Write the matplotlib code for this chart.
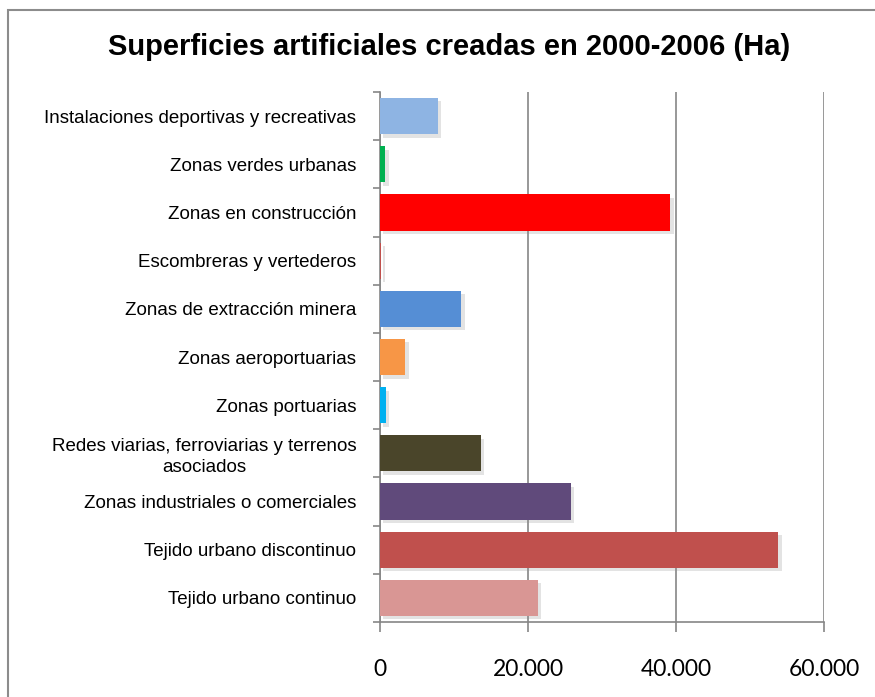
import matplotlib.pyplot as plt
import matplotlib.patheffects as pe
from matplotlib.patches import Rectangle
from matplotlib.ticker import FuncFormatter

# categorias (de arriba a abajo)
categorias = [
    "Instalaciones deportivas y recreativas",
    "Zonas verdes urbanas",
    "Zonas en construcción",
    "Escombreras y vertederos",
    "Zonas de extracción minera",
    "Zonas aeroportuarias",
    "Zonas portuarias",
    "Redes viarias, ferroviarias y terrenos\nasociados",
    "Zonas industriales o comerciales",
    "Tejido urbano discontinuo",
    "Tejido urbano continuo",
]
hectareas = [7800, 700, 39200, 150, 10950, 3400, 800, 13650, 25800, 53800, 21350]
colores = ["#8EB4E3", "#00B050", "#FF0000", "#C0504D", "#558ED5", "#F79646",
           "#00B0F0", "#4A452A", "#604A7B", "#C0504D", "#D99694"]
xticks = [0, 20000, 40000, 60000]

plt.rcParams['font.family'] = ['Liberation Sans', 'DejaVu Sans']

fig = plt.figure(figsize=(8.75, 6.97), dpi=100)
ax = fig.add_axes([380 / 875, 1 - 622 / 697, 444 / 875, 530 / 697])

n = len(categorias)
pos = list(range(n))[::-1]  # primera categoria arriba
sombra = [pe.SimplePatchShadow(offset=(2.5, -2.5), shadow_rgbFace='#909090', alpha=0.25), pe.Normal()]
bars = ax.barh(pos, hectareas, height=0.75, color=colores, zorder=3)
for b in bars:
    b.set_path_effects(sombra)

ax.set_xlim(0, 60000)
ax.set_ylim(-0.5, n - 0.5)
ax.set_xticks(xticks)
ax.xaxis.set_major_formatter(FuncFormatter(lambda v, p: f"{int(v):,}".replace(",", ".")))
ax.grid(axis='x', color='#868686', linewidth=1.2, zorder=0)
ax.set_axisbelow(True)

ax.set_yticks(pos)
ax.set_yticklabels(categorias, fontsize=13.5, multialignment='center', linespacing=1.25)
ax.set_yticks([k - 0.5 for k in range(n + 1)], minor=True)
ax.tick_params(axis='y', which='major', length=0, pad=17)
ax.tick_params(axis='y', which='minor', length=5, color='#868686', width=1.2)
ax.tick_params(axis='x', length=7, color='#868686', width=1.2, pad=20, labelsize=16.5)
for lab in ax.get_xticklabels():
    lab.set_fontfamily(['Lato', 'DejaVu Sans'])

for s in ['top', 'right']:
    ax.spines[s].set_visible(False)
for s in ['left', 'bottom']:
    ax.spines[s].set_color('#868686')
    ax.spines[s].set_linewidth(1.2)

fig.text(449 / 875, 1 - 47 / 697, "Superficies artificiales creadas en 2000-2006 (Ha)",
         ha='center', va='center', fontsize=21, fontweight='bold')

# marco del grafico
fig.patches.append(Rectangle((8 / 875, -0.1), 1.2, 1 - 10 / 697 + 0.1, transform=fig.transFigure,
                             fill=False, edgecolor='#8c8c8c', linewidth=1.5))

fig.savefig("out.png", dpi=100)
